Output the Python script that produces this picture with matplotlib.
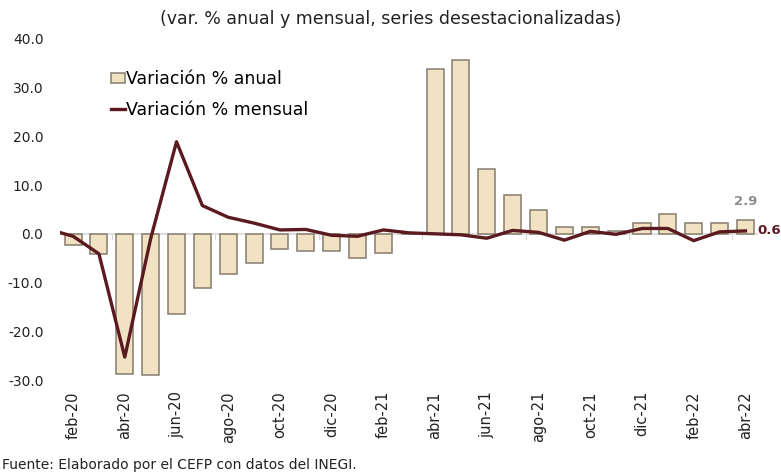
import numpy as np
import matplotlib.pyplot as plt

plt.rcParams['font.family'] = ['DejaVu Sans']

# meses (ene-20 sólo aparece recortado en la línea)
meses = ['ene-20', 'feb-20', 'mar-20', 'abr-20', 'may-20', 'jun-20', 'jul-20',
         'ago-20', 'sep-20', 'oct-20', 'nov-20', 'dic-20', 'ene-21', 'feb-21',
         'mar-21', 'abr-21', 'may-21', 'jun-21', 'jul-21', 'ago-21', 'sep-21',
         'oct-21', 'nov-21', 'dic-21', 'ene-22', 'feb-22', 'mar-22', 'abr-22']

anual = [np.nan, -2.2, -4.1, -28.8, -29.0, -16.4, -11.1, -8.3, -5.9, -3.1,
         -3.5, -3.6, -5.0, -4.0, 0.0, 33.8, 35.7, 13.3, 8.0, 4.8, 1.4, 1.4,
         0.5, 2.2, 4.1, 2.2, 2.2, 2.9]

mensual = [1.0, -0.5, -4.1, -25.3, -1.0, 18.9, 5.8, 3.4, 2.2, 0.8, 0.9, -0.3,
           -0.5, 0.8, 0.2, 0.0, -0.2, -0.9, 0.7, 0.3, -1.3, 0.5, -0.1, 1.1,
           1.1, -1.4, 0.4, 0.6]

x = np.arange(len(meses))

fig = plt.figure(figsize=(7.81, 4.75), dpi=100)
ax = fig.add_axes([0.077, 0.2, 0.894, 0.718])

barras = ax.bar(x, anual, width=0.66, color='#f2e2c4', edgecolor='#857c6c',
                linewidth=1.1, label='Variación % anual', zorder=2)
linea, = ax.plot(x, mensual, color='#5a1a20', linewidth=2.4,
                 label='Variación % mensual', zorder=3)

ax.set_xlim(0.5, len(meses) - 0.5)
ax.set_ylim(-30, 40)
ax.set_yticks(np.arange(-30, 41, 10))
ax.set_yticklabels([f'{v:.1f}' for v in np.arange(-30, 41, 10)], fontsize=10,
                   color='#222222')
ax.set_xticks(x[1::2])
ax.set_xticklabels(meses[1::2], rotation=90, fontsize=10.5, color='#222222')
ax.tick_params(axis='both', length=0)
ax.tick_params(axis='y', pad=12)
ax.tick_params(axis='x', pad=8)
for s in ax.spines.values():
    s.set_visible(False)

# eje en cero
ax.axhline(0, color='#d9d9d9', linewidth=1.2, zorder=1)
eje = ax.secondary_xaxis(30 / 70)
eje.set_xticks(np.arange(2.5, len(meses), 4))
eje.set_xticklabels([])
eje.tick_params(length=4, color='#d9d9d9', direction='out')
eje.spines['bottom'].set_visible(False)

ax.text(x[-1], anual[-1] + 3.8, '2.9', ha='center', va='center', fontsize=9.5,
        fontweight='bold', color='#8c8c8c')
ax.text(x[-1] + 0.45, mensual[-1], '0.6', ha='left', va='center', fontsize=9.5,
        fontweight='bold', color='#5a1a20')

ax.legend([barras, linea], ['Variación % anual', 'Variación % mensual'],
          loc='upper left', bbox_to_anchor=(0.05, 0.955), frameon=False,
          fontsize=12.5, handlelength=0.8, handleheight=0.5,
          handletextpad=0.1, labelspacing=0.75)

fig.text(0.5, 0.96, '(var. % anual y mensual, series desestacionalizadas)',
         ha='center', va='center', fontsize=12.5, color='#222222')
fig.text(0.003, 0.02, 'Fuente: Elaborado por el CEFP con datos del INEGI.',
         ha='left', va='center', fontsize=10, color='#222222')

fig.savefig('out.png', dpi=100)
